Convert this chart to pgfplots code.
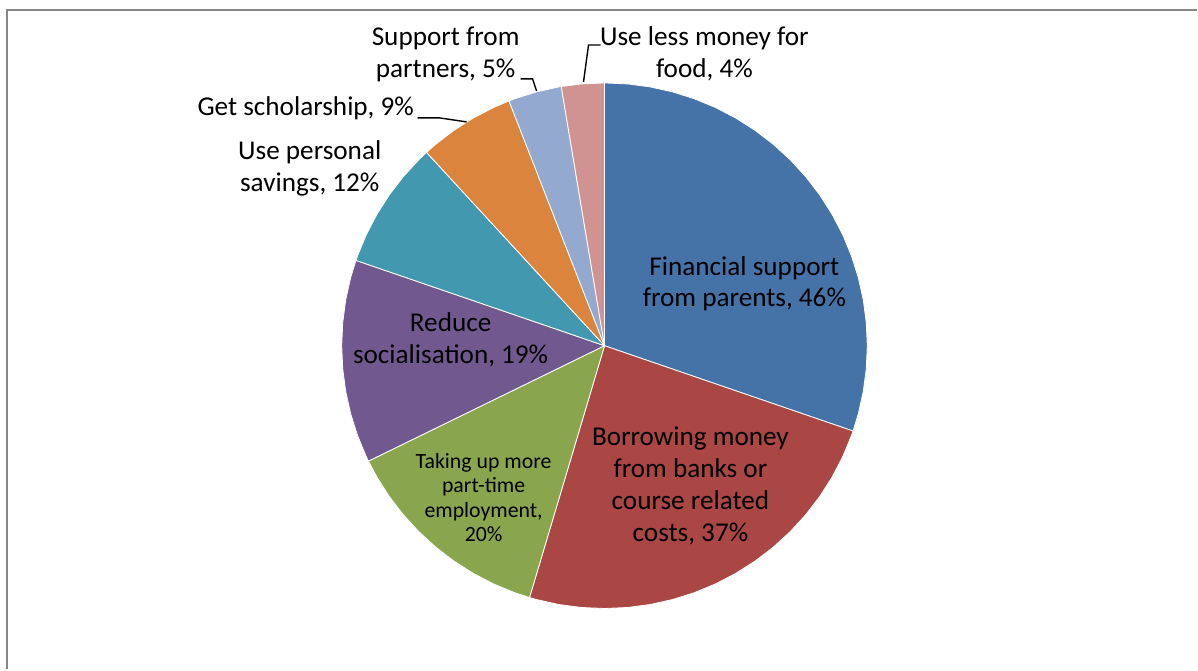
\documentclass[border=0pt]{standalone}
\usepackage{pgfplots}
\pgfplotsset{compat=1.18}
\usepackage{fontspec}
\setmainfont{Carlito}

\definecolor{cFin}{HTML}{4572A7}
\definecolor{cBor}{HTML}{AA4643}
\definecolor{cTak}{HTML}{89A54E}
\definecolor{cRed}{HTML}{71588F}
\definecolor{cSav}{HTML}{4198AF}
\definecolor{cSch}{HTML}{DB843D}
\definecolor{cPar}{HTML}{93A9CF}
\definecolor{cFoo}{HTML}{D19392}
\definecolor{frame}{HTML}{868686}

\begin{document}
\begin{tikzpicture}
% shares: 46, 37, 20, 19, 12, 9, 5, 4 (total 152), clockwise from the top
% wedge angles = share/152*360, radius 263 (axis units = pixels)
\begin{axis}[
    x=0.5pt, y=0.5pt,
    xmin=-605, xmax=593, ymin=-324, ymax=346,
    enlargelimits=false,
    hide axis,
    clip=false,
    every axis plot/.append style={draw=white, line width=0.4pt},
]
% keep the whole chart area in the picture
\path (axis cs:-605,-324) rectangle (axis cs:593,346);

% Financial support from parents, 46%
\addplot[fill=cFin, data cs=polar] coordinates {
    (0,0) (90,263) (85,263) (80,263) (75,263) (70,263) (65,263) (60,263)
    (55,263) (50,263) (45,263) (40,263) (35,263) (30,263) (25,263) (20,263)
    (15,263) (10,263) (5,263) (0,263) (-5,263) (-10,263) (-15,263)
    (-18.947,263) (0,0)
};
% Borrowing money, 37%
\addplot[fill=cBor, data cs=polar] coordinates {
    (0,0) (-18.947,263) (-20,263) (-25,263) (-30,263) (-35,263) (-40,263)
    (-45,263) (-50,263) (-55,263) (-60,263) (-65,263) (-70,263) (-75,263)
    (-80,263) (-85,263) (-90,263) (-95,263) (-100,263) (-105,263)
    (-106.579,263) (0,0)
};
% Taking up more part-time employment, 20%
\addplot[fill=cTak, data cs=polar] coordinates {
    (0,0) (-106.579,263) (-110,263) (-115,263) (-120,263) (-125,263)
    (-130,263) (-135,263) (-140,263) (-145,263) (-150,263)
    (-153.947,263) (0,0)
};
% Reduce socialisation, 19%
\addplot[fill=cRed, data cs=polar] coordinates {
    (0,0) (-153.947,263) (-155,263) (-160,263) (-165,263) (-170,263)
    (-175,263) (-180,263) (-185,263) (-190,263) (-195,263)
    (-198.947,263) (0,0)
};
% Use personal savings, 12%
\addplot[fill=cSav, data cs=polar] coordinates {
    (0,0) (-198.947,263) (-200,263) (-205,263) (-210,263) (-215,263)
    (-220,263) (-225,263) (-227.368,263) (0,0)
};
% Get scholarship, 9%
\addplot[fill=cSch, data cs=polar] coordinates {
    (0,0) (-227.368,263) (-230,263) (-235,263) (-240,263) (-245,263)
    (-248.684,263) (0,0)
};
% Support from partners, 5%
\addplot[fill=cPar, data cs=polar] coordinates {
    (0,0) (-248.684,263) (-250,263) (-255,263) (-260,263)
    (-260.526,263) (0,0)
};
% Use less money for food, 4%
\addplot[fill=cFoo, data cs=polar] coordinates {
    (0,0) (-260.526,263) (-265,263) (-270,263) (0,0)
};

% leader lines
\addplot[draw=black, line width=0.7pt] coordinates {(-187,228) (-165,228) (-138,224)};
\addplot[draw=black, line width=0.7pt] coordinates {(-84,267) (-72,267) (-68,255)};
\addplot[draw=black, line width=0.7pt] coordinates {(-4,301) (-16,301) (-21,264)};

% chart area frame
\addplot[draw=frame, line width=1pt] coordinates {(-597.5,-324) (-597.5,335.5) (593,335.5)};

% labels
\begin{scope}[every node/.style={align=center, text=black, inner sep=0pt,
        font=\fontsize{13.6}{16}\selectfont}]
\node at (axis cs:140,62) {Financial support\\from parents, 46\%};
\node at (axis cs:86,-140) {Borrowing money\\from banks or\\course related\\costs, 37\%};
\node[font=\fontsize{10.9}{12.2}\selectfont] at (axis cs:-121,-152) {Taking up more\\part-time\\employment,\\20\%};
\node at (axis cs:-154,6) {Reduce\\socialisation, 19\%};
\node at (axis cs:-295,177) {Use personal\\savings, 12\%};
\node at (axis cs:-299,238) {Get scholarship, 9\%};
\node at (axis cs:-159,292) {Support from\\partners, 5\%};
\node at (axis cs:100,292) {Use less money for\\food, 4\%};
\end{scope}
\end{axis}
\end{tikzpicture}
\end{document}
